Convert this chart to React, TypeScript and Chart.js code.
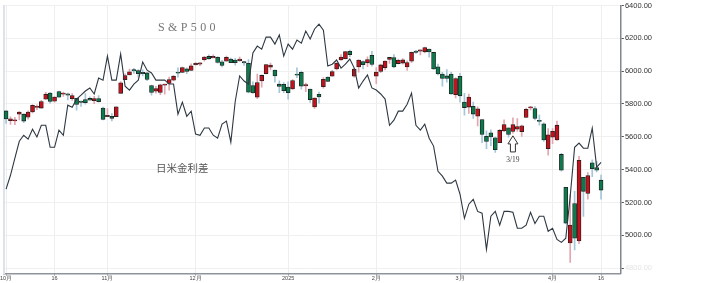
import { useEffect, useRef } from "react";
import { Chart, registerables } from "chart.js";

Chart.register(...registerables);

// Trading days (S&P 500 daily candles)
const dates = [
  "10/1","10/2","10/3","10/4","10/7","10/8","10/9","10/10","10/11","10/14","10/15","10/16","10/17","10/18","10/21","10/22","10/23","10/24","10/25","10/28","10/29","10/30","10/31",
  "11/1","11/4","11/5","11/6","11/7","11/8","11/11","11/12","11/13","11/14","11/15","11/18","11/19","11/20","11/21","11/22","11/25","11/26","11/27","11/29",
  "12/2","12/3","12/4","12/5","12/6","12/9","12/10","12/11","12/12","12/13","12/16","12/17","12/18","12/19","12/20","12/23","12/24","12/26","12/27","12/30","12/31",
  "1/2","1/3","1/6","1/7","1/8","1/10","1/13","1/14","1/15","1/16","1/17","1/21","1/22","1/23","1/24","1/27","1/28","1/29","1/30","1/31",
  "2/3","2/4","2/5","2/6","2/7","2/10","2/11","2/12","2/13","2/14","2/18","2/19","2/20","2/21","2/24","2/25","2/26","2/27","2/28",
  "3/3","3/4","3/5","3/6","3/7","3/10","3/11","3/12","3/13","3/14","3/17","3/18","3/19","3/20","3/21","3/24","3/25","3/26","3/27","3/28","3/31",
  "4/1","4/2","4/3","4/4","4/7","4/8","4/9","4/10","4/11","4/14","4/15","4/16",
];
// empty slots after the last candle
const futureDates = ["4/17", "4/21", "4/22", "4/23"];

const open = [
  5757.7,5698.2,5696.2,5737.3,5737.8,5719.1,5751.8,5778.4,5775.1,5829.8,5866.7,5816.6,5875.6,5859.4,5857.8,5832.7,5834.5,5817.8,5826.8,5833.9,5819.7,5832.7,5775.3,
  5723.2,5725.2,5722.4,5864.9,5947.6,5976.8,6008.9,6003.6,5985.8,5989.2,5912.8,5878.5,5870.9,5914.2,5924.6,5944.4,5992.3,5992.3,6014.1,6004.0,
  6040.1,6043.0,6069.4,6089.8,6081.4,6084.0,6057.6,6060.2,6074.3,6068.2,6063.8,6052.6,6047.7,5912.7,5842.0,5940.3,5984.7,6025.0,6006.2,5920.7,5919.7,
  5903.3,5891.1,5982.8,5993.3,5910.7,5890.7,5782.2,5859.2,5905.2,5964.0,5969.5,6014.1,6068.7,6076.3,6121.4,5969.0,6026.0,6057.7,6050.8,6096.8,
  5969.7,5998.1,6020.5,6072.2,6083.1,6046.4,6049.3,6025.1,6060.6,6115.5,6121.6,6117.8,6134.5,6114.1,6026.7,5982.7,5970.9,5981.9,5856.7,
  5968.3,5812.0,5781.4,5785.9,5726.0,5705.4,5603.7,5624.8,5594.5,5563.9,5635.6,5654.5,5632.4,5646.9,5630.7,5718.1,5775.9,5771.7,5695.6,5679.2,5527.9,
  5597.5,5580.8,5492.7,5292.1,4953.8,5193.6,4965.3,5353.2,5255.6,5442.0,5412.0,5335.8,
];
const high = [
  5757.7,5722.4,5719.1,5753.1,5739.4,5757.6,5796.8,5795.0,5822.1,5871.4,5870.4,5844.4,5878.5,5872.2,5866.9,5863.0,5834.9,5817.8,5862.8,5842.9,5847.2,5850.9,5780.8,
  5772.6,5741.4,5783.4,5936.1,5983.8,6012.5,6017.3,6009.9,6008.2,5993.9,5915.3,5908.1,5920.7,5920.7,5963.9,5972.9,6020.8,6025.4,6020.2,6044.2,
  6053.6,6052.7,6089.8,6100.0,6099.1,6088.5,6065.4,6092.6,6079.7,6078.6,6085.2,6057.7,6070.7,5935.5,5982.1,5978.3,6040.1,6049.8,6006.2,5940.8,5929.7,
  5935.1,5949.3,6021.0,6000.7,5927.9,5890.7,5838.8,5871.9,5960.6,5966.0,6004.9,6051.5,6100.8,6118.7,6128.2,6017.2,6069.1,6062.8,6086.6,6120.9,
  6022.1,6042.5,6062.9,6084.0,6101.3,6073.4,6076.3,6063.6,6116.9,6127.5,6129.6,6147.4,6134.5,6114.8,6043.7,5992.7,6009.8,5993.7,5959.4,
  5986.1,5865.1,5860.6,5812.1,5783.0,5705.4,5636.3,5642.2,5597.8,5645.3,5703.5,5654.5,5715.3,5711.2,5670.8,5775.1,5786.0,5783.6,5732.3,5685.9,5650.6,
  5650.8,5695.3,5499.5,5292.1,5246.6,5267.5,5481.3,5353.2,5381.5,5459.5,5450.4,5367.2,
];
const low = [
  5681.3,5674.8,5674.4,5702.8,5686.9,5707.8,5745.0,5764.8,5775.1,5829.8,5804.5,5810.8,5840.3,5846.1,5824.8,5821.2,5762.4,5784.9,5799.0,5823.1,5802.1,5811.3,5702.6,
  5723.2,5696.5,5722.1,5864.9,5947.6,5976.8,5986.7,5963.0,5971.6,5942.3,5853.0,5865.9,5857.3,5860.3,5884.0,5941.0,5963.9,5992.3,5984.9,6004.0,
  6035.3,6033.4,6061.1,6072.6,6080.0,6048.6,6026.6,6060.2,6051.3,6035.8,6059.1,6035.2,5867.8,5866.1,5832.3,5902.6,5983.9,6007.4,5933.0,5869.2,5868.9,
  5829.5,5888.7,5960.0,5890.7,5874.8,5809.9,5773.3,5805.5,5895.7,5936.1,5969.5,6006.9,6064.7,6074.7,6088.7,5962.9,5994.3,6013.0,6027.5,6030.9,
  5923.9,5990.9,6007.1,6046.8,6020.0,6044.8,6042.3,6004.0,6051.0,6107.6,6099.5,6111.1,6084.6,6008.6,5977.8,5908.5,5932.7,5858.8,5837.7,
  5810.9,5732.6,5742.4,5711.6,5666.3,5564.0,5528.4,5546.1,5504.7,5563.9,5631.1,5597.8,5622.2,5632.3,5603.1,5718.1,5764.0,5703.5,5670.9,5572.4,5488.7,
  5558.5,5578.1,5390.8,5069.9,4835.0,4910.4,4948.4,5115.3,5220.8,5358.0,5386.4,5220.8,
];
const close = [
  5708.8,5709.5,5699.9,5751.1,5695.9,5751.1,5792.0,5780.1,5815.0,5859.9,5815.3,5842.5,5841.5,5864.7,5853.9,5851.2,5797.4,5809.9,5808.1,5823.5,5832.9,5813.7,5705.5,
  5728.8,5712.7,5782.8,5929.0,5973.1,5995.5,6001.4,5984.0,5985.4,5949.2,5870.6,5893.6,5917.0,5917.1,5948.7,5969.3,5987.4,6021.6,5998.7,6032.4,
  6047.2,6049.9,6086.5,6075.1,6090.3,6052.9,6034.9,6084.2,6051.1,6051.1,6074.1,6050.6,5872.2,5867.1,5930.9,5974.1,6040.0,6037.6,5970.8,5906.9,5881.6,
  5868.6,5942.5,5975.4,5909.0,5918.3,5827.0,5836.2,5842.9,5949.9,5937.3,5996.7,6049.2,6086.4,6118.7,6101.2,6012.3,6067.7,6039.3,6071.2,6040.5,
  5994.6,6037.9,6061.5,6083.6,6026.0,6066.4,6068.5,6052.0,6115.1,6114.6,6129.6,6144.2,6117.5,6013.1,5983.3,5955.3,5956.1,5861.6,5954.5,
  5849.7,5778.2,5842.6,5738.5,5770.2,5614.6,5572.1,5599.3,5521.5,5638.9,5675.1,5614.7,5675.3,5662.9,5667.6,5767.6,5776.7,5712.2,5693.3,5580.9,5611.9,
  5633.1,5671.0,5396.5,5074.1,5062.3,4982.8,5456.9,5268.1,5363.4,5406.0,5396.6,5275.7,
];

// Japan-US interest rate spread (%), one value per trading day
const spread = [
  3.000,3.046,3.103,3.159,3.179,3.166,3.199,3.173,3.212,3.212,
  3.139,3.139,3.196,3.179,3.279,3.272,3.299,3.312,3.326,3.336,
  3.316,3.369,3.362,3.442,3.362,3.362,3.449,3.342,3.329,3.349,
  3.362,3.422,3.395,3.386,3.362,3.362,3.362,3.349,3.349,3.249,
  3.289,3.242,3.259,3.183,3.179,3.203,3.203,3.179,3.169,3.216,
  3.226,3.156,3.292,3.376,3.359,3.349,3.452,3.475,3.465,3.505,
  3.505,3.482,3.512,3.442,3.482,3.465,3.495,3.485,3.525,3.499,
  3.532,3.548,3.528,3.409,3.415,3.429,3.402,3.415,3.432,3.402,
  3.336,3.359,3.379,3.336,3.329,3.316,3.299,3.212,3.229,3.259,
  3.259,3.282,3.319,3.212,3.196,3.216,3.169,3.143,3.059,3.043,
  3.020,3.020,3.030,2.983,2.903,2.950,2.966,2.926,2.920,2.800,
  2.910,2.926,2.880,2.926,2.926,2.923,2.870,2.870,2.880,2.923,
  2.886,2.910,2.910,2.860,2.870,2.833,2.823,2.837,2.976,3.139,
  3.153,3.136,3.136,3.203,3.073,3.089,
];

const xTickDates = ["10/1", "10/16", "11/1", "12/2", "1/2", "2/3", "3/3", "4/1", "4/16"];
const xTickLabels = ["10月", "16", "11月", "12月", "2025", "2月", "3月", "4月", "16"];
const yTicks = [4800, 5000, 5200, 5400, 5600, 5800, 6000, 6200, 6400];

const TITLE = "S&P500";
const titleAnchor = { date: "11/27", price: 6262 };
const SPREAD_LABEL = "日米金利差";
const spreadAnchor = { date: "11/26", price: 5409 };
const markDate = "3/19";
const markTip = 5606;
const markBase = 5508;
const markText = 5457;

const UP = "#c3121c";
const DOWN = "#0c7a4c";
const UP_WICK = "#e4a6b0";
const DOWN_WICK = "#a3c6d8";

const notesPlugin = {
  id: "notes",
  afterDatasetsDraw(chart: any) {
    const { ctx } = chart;
    const x = chart.scales.x;
    const y = chart.scales.y;
    ctx.save();
    ctx.textBaseline = "middle";
    // title
    ctx.fillStyle = "#777";
    ctx.font = '12px "Liberation Serif"';
    ctx.letterSpacing = "3.4px";
    ctx.textAlign = "left";
    const tw = ctx.measureText(TITLE).width - 3.4;
    ctx.fillText(TITLE, x.getPixelForValue(dates.indexOf(titleAnchor.date)) - tw / 2, y.getPixelForValue(titleAnchor.price));
    ctx.letterSpacing = "0px";
    // spread label
    ctx.fillStyle = "#555";
    ctx.font = '10.5px "Noto Sans CJK JP"';
    ctx.textAlign = "center";
    ctx.fillText(SPREAD_LABEL, x.getPixelForValue(dates.indexOf(spreadAnchor.date)), y.getPixelForValue(spreadAnchor.price));
    // arrow at 3/19
    const cx = x.getPixelForValue(dates.indexOf(markDate));
    const ty = y.getPixelForValue(markTip);
    const by = y.getPixelForValue(markBase);
    const hy = ty + (by - ty) * 0.5;
    ctx.beginPath();
    ctx.moveTo(cx, ty);
    ctx.lineTo(cx + 5, hy);
    ctx.lineTo(cx + 2.5, hy);
    ctx.lineTo(cx + 2.5, by);
    ctx.lineTo(cx - 2.5, by);
    ctx.lineTo(cx - 2.5, hy);
    ctx.lineTo(cx - 5, hy);
    ctx.closePath();
    ctx.fillStyle = "#fff";
    ctx.fill();
    ctx.strokeStyle = "#333";
    ctx.lineWidth = 1;
    ctx.stroke();
    ctx.fillStyle = "#444";
    ctx.font = '7.5px "Liberation Serif"';
    ctx.fillText(markDate, cx, y.getPixelForValue(markText));
    ctx.restore();
  },
};

export default function App() {
  const ref = useRef<HTMLCanvasElement>(null);
  useEffect(() => {
    const labels = [...dates, ...futureDates];
    const up = dates.map((_, i) => close[i] >= open[i]);
    const tickMap: Record<string, string> = {};
    xTickDates.forEach((d, i) => (tickMap[d] = xTickLabels[i]));
    const isTick = (i: number) => tickMap[labels[i]] !== undefined;

    const chart = new Chart(ref.current!, {
      type: "bar",
      data: {
        labels,
        datasets: [
          {
            type: "line",
            label: SPREAD_LABEL,
            data: spread,
            yAxisID: "y2",
            borderColor: "#2e3842",
            borderWidth: 1.1,
            pointRadius: 0,
            tension: 0,
            order: 0,
          } as any,
          {
            label: "body",
            data: dates.map((_, i) => [open[i], close[i]]),
            yAxisID: "y",
            backgroundColor: up.map((u) => (u ? UP : DOWN)),
            borderColor: "#1e1e1e",
            borderWidth: 0.8,
            borderSkipped: false,
            barThickness: 4,
            minBarLength: 1.2,
            grouped: false,
            order: 1,
          } as any,
          {
            label: "wick",
            data: dates.map((_, i) => [low[i], high[i]]),
            yAxisID: "y",
            backgroundColor: up.map((u) => (u ? UP_WICK : DOWN_WICK)),
            borderWidth: 0,
            barThickness: 1,
            grouped: false,
            order: 2,
          } as any,
        ],
      },
      options: {
        responsive: true,
        maintainAspectRatio: false,
        animation: false,
        events: [],
        layout: { padding: { left: 3, right: 53, top: 0, bottom: 1 } },
        plugins: { legend: { display: false }, tooltip: { enabled: false } },
        scales: {
          x: {
            type: "category",
            offset: true,
            grid: {
              offset: false,
              color: (c: any) => (isTick(c.index) ? "#eeeeee" : "rgba(0,0,0,0)"),
              tickColor: (c: any) => (isTick(c.index) ? "#555" : "rgba(0,0,0,0)"),
              tickLength: 2,
            },
            border: { color: "#8d949c", width: 1.5 },
            ticks: {
              autoSkip: false,
              maxRotation: 0,
              minRotation: 0,
              padding: 0,
              color: "#444",
              font: { size: 5.5, family: "Liberation Sans" },
              callback: (_v: any, i: number) => tickMap[labels[i]] ?? "",
            },
          },
          y: {
            position: "right",
            min: 4768,
            max: 6400,
            afterBuildTicks: (s: any) => {
              s.ticks = yTicks.map((v) => ({ value: v }));
            },
            grid: { color: "#f0f0f0", tickColor: "#555", tickLength: 3 },
            border: { color: "#80878f", width: 1.5 },
            ticks: {
              padding: 1,
              color: (c: any) => (c.tick && c.tick.value === 4800 ? "#e4e4e4" : "#333"),
              font: { size: 7.5, family: "Liberation Sans" },
              callback: (v: any) => Number(v).toFixed(2),
            },
          },
          y2: {
            position: "left",
            min: 2.72,
            max: 3.61,
            grid: { drawOnChartArea: false, drawTicks: false },
            border: { color: "#dde3ea", width: 2 },
            ticks: { display: false },
          },
        },
      } as any,
      plugins: [notesPlugin],
    });
    return () => chart.destroy();
  }, []);

  return (
    <div style={{ position: "absolute", left: 0, top: 0, width: 706, height: 283, overflow: "hidden", background: "#fff" }}>
      <div style={{ position: "relative", width: 706, height: 283 }}>
        <canvas ref={ref} />
      </div>
    </div>
  );
}
